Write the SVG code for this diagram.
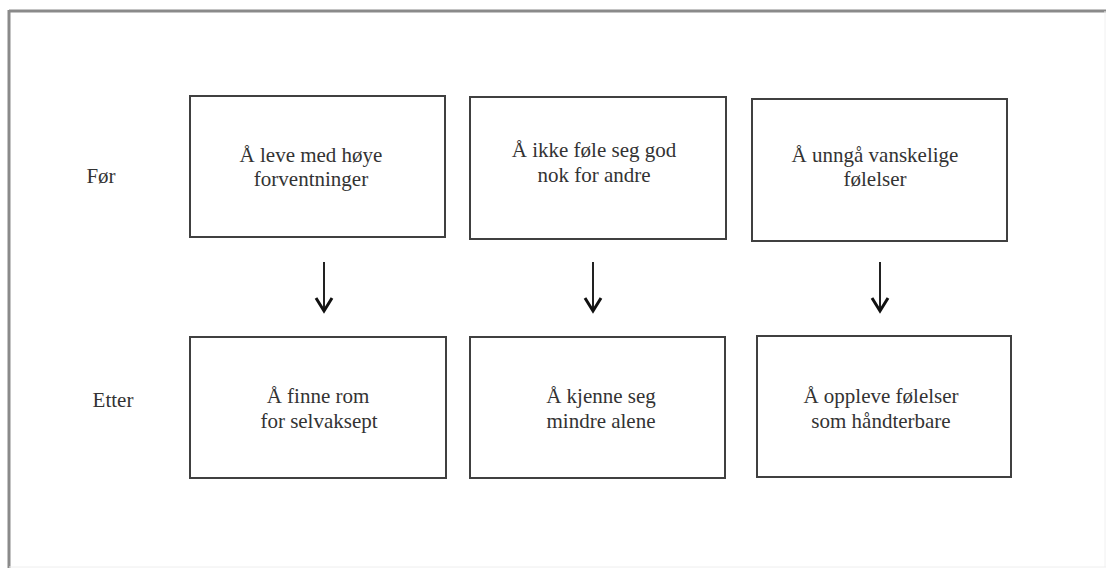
<svg xmlns="http://www.w3.org/2000/svg" width="1107" height="568" viewBox="0 0 1107 568">
<style>
.box{fill:#fff;stroke:#404040;stroke-width:2}
.t{font-family:"Liberation Serif","Times New Roman",serif;font-size:21px;fill:#333;text-anchor:middle}
.ln{stroke:#222;stroke-width:2;fill:none}
.hd{stroke:#111;stroke-width:3;fill:none;stroke-linejoin:miter}
</style>
<rect width="1107" height="568" fill="#fff"/>
<g id="frame">
<line x1="9" y1="11" x2="1106" y2="11" stroke="#8a8a8a" stroke-width="3"/>
<line x1="9" y1="10" x2="9" y2="568" stroke="#8a8a8a" stroke-width="3"/>
<line x1="1105" y1="11" x2="1105" y2="567" stroke="#f0f0f0" stroke-width="1"/>
<line x1="9" y1="567" x2="1106" y2="567" stroke="#eeeeee" stroke-width="1"/>
</g>
<g id="label-for"><text class="t" x="101" y="183">Før</text></g>
<g id="label-etter"><text class="t" x="113" y="407">Etter</text></g>
<g id="node-b1"><rect class="box" x="190" y="96" width="255" height="141"/><text class="t" x="311" y="162">Å leve med høye</text><text class="t" x="311" y="186">forventninger</text></g>
<g id="node-b2"><rect class="box" x="470" y="97" width="256" height="142"/><text class="t" x="594" y="157">Å ikke føle seg god</text><text class="t" x="594" y="182">nok for andre</text></g>
<g id="node-b3"><rect class="box" x="752" y="99" width="255" height="142"/><text class="t" x="875" y="162">Å unngå vanskelige</text><text class="t" x="875" y="186">følelser</text></g>
<g id="node-a1"><rect class="box" x="190" y="337" width="256" height="141"/><text class="t" x="318" y="403">Å finne rom</text><text class="t" x="319" y="428">for selvaksept</text></g>
<g id="node-a2"><rect class="box" x="470" y="337" width="255" height="141"/><text class="t" x="601" y="403">Å kjenne seg</text><text class="t" x="601" y="428">mindre alene</text></g>
<g id="node-a3"><rect class="box" x="757" y="336" width="254" height="141"/><text class="t" x="881" y="403">Å oppleve følelser</text><text class="t" x="881" y="428">som håndterbare</text></g>
<g id="connectors">
<line class="ln" x1="324" y1="262" x2="324" y2="311"/><polyline class="hd" points="316,298 324,311 332,298"/>
<line class="ln" x1="593" y1="262" x2="593" y2="311"/><polyline class="hd" points="585,298 593,311 601,298"/>
<line class="ln" x1="880" y1="262" x2="880" y2="311"/><polyline class="hd" points="872,298 880,311 888,298"/>
</g>
</svg>
